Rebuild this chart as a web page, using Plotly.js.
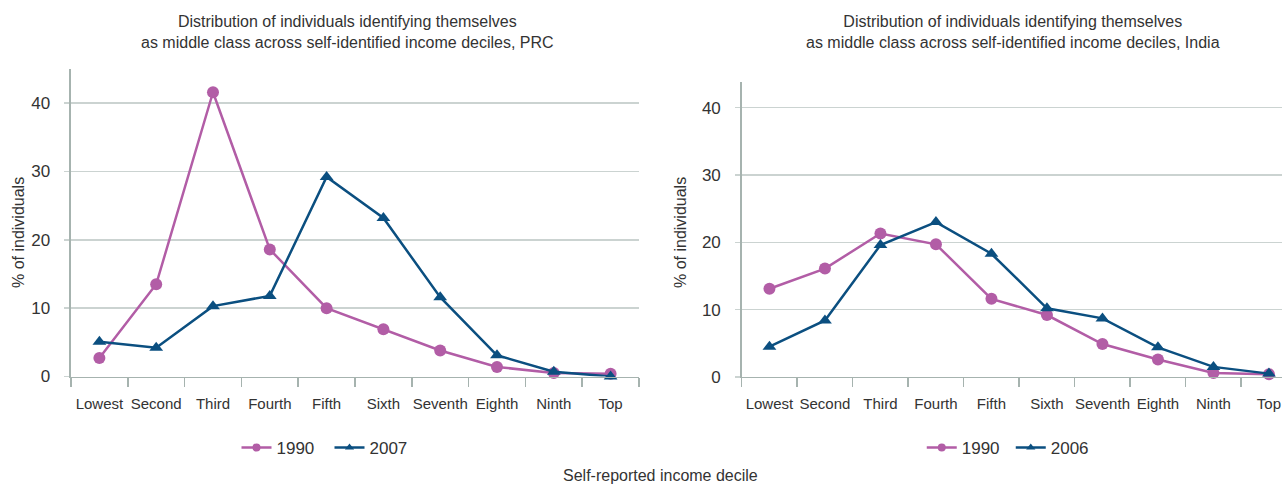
<!DOCTYPE html>
<html>
<head>
<meta charset="utf-8">
<script src="https://cdn.plot.ly/plotly-3.0.1.min.js"></script>
<style>html,body{margin:0;padding:0;background:#fff;}#chart{width:1282px;height:484px;}</style>
</head>
<body>
<div id="chart"></div>
<script>
const deciles = ["Lowest","Second","Third","Fourth","Fifth","Sixth","Seventh","Eighth","Ninth","Top"];
const prc1990 = [2.7, 13.5, 41.6, 18.6, 10.0, 6.9, 3.8, 1.4, 0.5, 0.4];
const prc2007 = [5.1, 4.2, 10.3, 11.8, 29.2, 23.2, 11.6, 3.1, 0.7, 0.0];
const india1990 = [13.1, 16.1, 21.3, 19.7, 11.6, 9.2, 4.9, 2.6, 0.6, 0.4];
const india2006 = [4.5, 8.4, 19.6, 23.0, 18.3, 10.2, 8.7, 4.4, 1.5, 0.5];
const yTicks = [0, 10, 20, 30, 40];

const FONT = '"Liberation Sans", Arial, sans-serif';
const PURPLE = '#B25DA6';
const BLUE = '#0B4F80';
const GRID = '#CBD3D1';
const AXIS = '#A6B3AF';
const TXT = '#333333';

function tr(x, y, name, color, sym, xa, ya) {
  return {
    type: 'scatter', mode: 'lines+markers', x: x, y: y, name: name,
    xaxis: xa, yaxis: ya, showlegend: false, cliponaxis: false,
    line: {color: color, width: 2.5},
    marker: {color: color, symbol: sym, size: 12}
  };
}
function legTr(name, color, sym, xa, ya, leg) {
  return {
    type: 'scatter', mode: 'lines+markers', x: [null], y: [null], name: name,
    xaxis: xa, yaxis: ya, legend: leg, showlegend: true,
    line: {color: color, width: 2.5},
    marker: {color: color, symbol: sym, size: 8}
  };
}
const data = [
  tr(deciles, prc1990, '1990', PURPLE, 'circle', 'x', 'y'),
  tr(deciles, prc2007, '2007', BLUE, 'triangle-up', 'x', 'y'),
  tr(deciles, india1990, '1990', PURPLE, 'circle', 'x2', 'y2'),
  tr(deciles, india2006, '2006', BLUE, 'triangle-up', 'x2', 'y2'),
  legTr('1990', PURPLE, 'circle', 'x', 'y', 'legend'),
  legTr('2007', BLUE, 'triangle-up', 'x', 'y', 'legend'),
  legTr('1990', PURPLE, 'circle', 'x2', 'y2', 'legend2'),
  legTr('2006', BLUE, 'triangle-up', 'x2', 'y2', 'legend2')
];

function xax(domain, range, anchor) {
  return {
    domain: domain, anchor: anchor, type: 'category', range: range, tickson: 'boundaries',
    ticks: 'outside', ticklen: 9, tickcolor: AXIS, tickwidth: 1.5, tickangle: 0,
    ticklabelstandoff: 13,
    showline: true, linecolor: AXIS, linewidth: 1.5, showgrid: false, zeroline: false,
    tickfont: {family: FONT, size: 15, color: TXT}, fixedrange: true
  };
}
function yax(domain, range, anchor) {
  return {
    domain: domain, anchor: anchor, range: range, tickvals: yTicks, ticks: 'outside', ticklen: 5,
    tickcolor: GRID, tickwidth: 1.5, ticklabelstandoff: 11,
    showline: true, linecolor: AXIS, linewidth: 1.5, showgrid: true, gridcolor: GRID, gridwidth: 1.5,
    zeroline: false, tickfont: {family: FONT, size: 17, color: TXT},
    fixedrange: true
  };
}
const legendBase = {
  orientation: 'h', xanchor: 'left', yanchor: 'middle', yref: 'paper', xref: 'paper',
  font: {family: FONT, size: 17, color: TXT}, bgcolor: 'rgba(0,0,0,0)', itemwidth: 30,
  tracegroupgap: 0
};
function pxX(px) { return px / 1282; }
function pxY(py) { return (484 - py) / 484; }
function ann(text, x, y, size, angle) {
  return {text: text, x: pxX(x), y: pxY(y), xref: 'paper', yref: 'paper', xanchor: 'center', yanchor: 'middle',
    showarrow: false, textangle: angle || 0, font: {family: FONT, size: size, color: TXT}};
}

const layout = {
  width: 1282, height: 484,
  margin: {l: 0, r: 0, t: 0, b: 0},
  paper_bgcolor: '#ffffff', plot_bgcolor: '#ffffff',
  showlegend: true,
  font: {family: FONT, color: TXT},
  xaxis: xax([0.05538, 0.49844], [-0.5, 9.5], 'y'),
  yaxis: yax([0.2221, 0.8574], [0, 45], 'x'),
  xaxis2: xax([0.57855, 1], [-0.5, 9.235], 'y2'),
  yaxis2: yax([0.2211, 0.8306], [0, 43.8], 'x2'),
  legend: Object.assign({}, legendBase, {x: pxX(236.5), y: pxY(448), entrywidth: 48}),
  legend2: Object.assign({}, legendBase, {x: 0.719, y: pxY(448), entrywidth: 44}),
  annotations: [
    ann('Distribution of individuals identifying themselves<br>as middle class across self-identified income deciles, PRC', 347, 32, 16),
    ann('Distribution of individuals identifying themselves<br>as middle class across self-identified income deciles, India', 1013, 32, 16),
    ann('Self-reported income decile', 660, 475, 16),
    ann('% of individuals', 18, 233, 16, -90),
    ann('% of individuals', 680, 233, 16, -90)
  ]
};

Plotly.newPlot('chart', data, layout, {displayModeBar: false, staticPlot: true});
</script>
</body>
</html>
